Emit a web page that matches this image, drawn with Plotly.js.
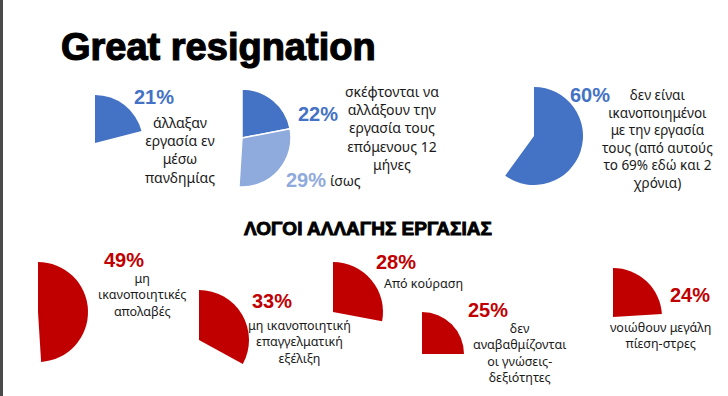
<!DOCTYPE html>
<html>
<head>
<meta charset="utf-8">
<script src="https://cdn.plot.ly/plotly-3.0.1.min.js"></script>
<style>
  html, body { margin: 0; padding: 0; overflow: hidden; background: #fff; width: 728px; height: 396px; }
  #chart { position: absolute; left: -20px; top: 0; width: 748px; height: 396px; }
  #chart g.annotation[data-index="0"] text { stroke: #000; stroke-width: 1.2px; }
  #chart g.annotation[data-index="1"] text { stroke: #000; stroke-width: 0.9px; }
</style>
</head>
<body>
<div id="chart"></div>
<script>
// ---- data ----
const slideTitle = "Great resignation";
const sectionTitle = "ΛΟΓΟΙ ΑΛΛΑΓΗΣ ΕΡΓΑΣΙΑΣ";

const changedShare = [21];
const thinkingShares = [22, 29];           // will change / maybe
const unsatisfiedShare = [60];
const blueCaptions = [
  "άλλαξαν<br>εργασία εν<br>μέσω<br>πανδημίας",
  "σκέφτονται να<br>αλλάξουν την<br>εργασία τους<br>επόμενους 12<br>μήνες",
  "δεν είναι<br>ικανοποιημένοι<br>με την εργασία<br>τους (από αυτούς<br>το 69% εδώ και 2<br>χρόνια)"
];
const maybeCaption = "ίσως";

const reasonShares = [49, 33, 28, 25, 24];
const reasonCaptions = [
  "μη<br>ικανοποιητικές<br>απολαβές",
  "μη ικανοποιητική<br>επαγγελματική<br>εξέλιξη",
  "Από κούραση",
  "δεν<br>αναβαθμίζονται<br>οι γνώσεις-<br>δεξιότητες",
  "νοιώθουν μεγάλη<br>πίεση-στρες"
];

// ---- layout helpers (pixel positions on the 728x396 slide) ----
const W = 748, H = 396, OFF = 20;
const BLUE = "#4472C4", LIGHT = "#8FAADC", RED = "#C00000", CLEAR = "rgba(0,0,0,0)";
const px = x => (x + OFF) / W;
const py = y => 1 - y / H;
const dom = (cx, cy, r) => ({ x: [px(cx - r), px(cx + r)], y: [py(cy + r), py(cy - r)] });

function wedge(vals, colors, d, lineW) {
  const rest = 100 - vals.reduce((a, b) => a + b, 0);
  return {
    type: "pie", values: vals.concat([rest]), sort: false, direction: "clockwise", rotation: 0,
    marker: { colors: colors.concat([CLEAR]), line: { color: "#ffffff", width: vals.map(() => lineW).concat([0]) } },
    textinfo: "none", hoverinfo: "skip", showlegend: false, domain: d
  };
}

const bluePies = [[95, 143, 48], [242, 138, 49], [534, 136, 49]];
const redPies = [[38, 312, 50], [199, 340, 50], [333, 312, 50], [422, 362, 50], [613, 317, 49]];

const traces = [
  wedge(changedShare, [BLUE], dom(...bluePies[0]), 0),
  wedge(thinkingShares, [BLUE, LIGHT], dom(...bluePies[1]), 1.5),
  wedge(unsatisfiedShare, [BLUE], dom(...bluePies[2]), 0)
];
reasonShares.forEach((v, i) => traces.push(wedge([v], [RED], dom(...redPies[i]), 0)));

const PCT_FONT = "Liberation Sans, Arial, sans-serif";
const BODY_FONT = "Noto Sans, DejaVu Sans, sans-serif";
const ann = [];
function pct(v, x, y, color) {
  ann.push({ text: "<b>" + v + "%</b>", x: px(x), y: py(y), xref: "paper", yref: "paper",
    showarrow: false, xanchor: "center", yanchor: "middle", font: { family: PCT_FONT, size: 20, color } });
}
function cap(t, x, y, size, xanchor) {
  ann.push({ text: t, x: px(x), y: py(y), xref: "paper", yref: "paper", showarrow: false,
    xanchor: xanchor || "center", yanchor: "middle", align: "center",
    font: { family: BODY_FONT, size, color: "#1a1a1a" } });
}

ann.push({ text: "<b>" + slideTitle + "</b>", x: px(218), y: py(47), xref: "paper", yref: "paper",
  showarrow: false, xanchor: "center", yanchor: "middle", font: { family: PCT_FONT, size: 38, color: "#000" } });
ann.push({ text: "<b>" + sectionTitle + "</b>", x: px(368), y: py(228), xref: "paper", yref: "paper",
  showarrow: false, xanchor: "center", yanchor: "middle", font: { family: PCT_FONT, size: 19, color: "#000" } });

pct(changedShare[0], 154, 97, BLUE);
pct(thinkingShares[0], 318, 114, BLUE);
pct(thinkingShares[1], 306, 180, LIGHT);
pct(unsatisfiedShare[0], 590, 95, BLUE);
cap(blueCaptions[0], 180, 150, 14);
cap(blueCaptions[1], 392, 128, 14);
cap(maybeCaption, 328, 180, 14, "left");
cap(blueCaptions[2], 657, 139, 13.5);

const redPct = [[124, 260], [272, 301], [396, 262], [488, 310], [690, 295]];
const redCap = [[142, 295], [299, 342], [423, 283], [519, 353], [660, 335]];
reasonShares.forEach((v, i) => {
  pct(v, redPct[i][0], redPct[i][1], RED);
  cap(reasonCaptions[i], redCap[i][0], redCap[i][1], 12.5);
});

const layout = {
  width: W, height: H, margin: { l: 0, r: 0, t: 0, b: 0 },
  paper_bgcolor: "#fff", plot_bgcolor: "#fff", showlegend: false,
  annotations: ann,
  shapes: [{ type: "rect", xref: "paper", yref: "paper", x0: px(0), x1: px(3), y0: 0, y1: 1,
    fillcolor: "#4a4a4a", line: { width: 0 } }]
};

Plotly.newPlot("chart", traces, layout, { staticPlot: true, displayModeBar: false });
</script>
</body>
</html>
